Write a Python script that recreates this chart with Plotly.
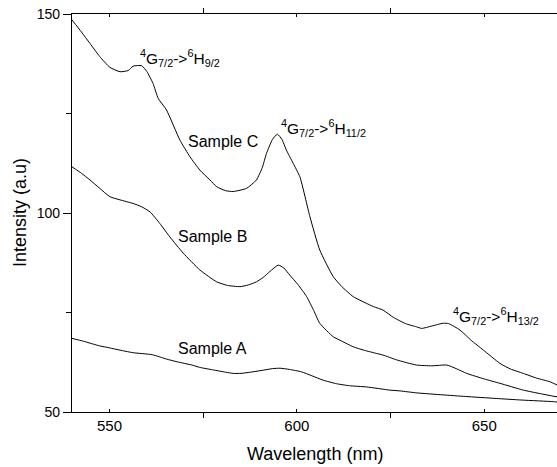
import plotly.graph_objects as go

# ---- data ----
wl_C = [540, 542.5, 544.8, 547.4, 550.1, 552.8, 555, 556.3, 558.6, 560, 561.6, 563, 565.2,
        568.8, 571.5, 574.1, 576.8, 578.6, 581, 583, 586.6, 589.2, 590.8, 591.9, 593.5,
        594.8, 596, 597.2, 599, 600.8, 603.5, 606.1, 609.7, 612, 615, 620.4, 623, 625.7,
        629, 631.9, 633.3, 636, 639, 640.5, 643.5, 646.5, 649.7, 654.2, 657, 660.4, 664,
        667.5, 669.4]
int_C = [148.5, 145.5, 142.6, 139.3, 136.6, 135.5, 135.8, 136.9, 137.0, 135.5, 132.6, 128.8,
         125.9, 118.3, 114.1, 110.8, 108.3, 106.6, 105.6, 105.4, 106.2, 108.3, 111.5, 115,
         118.5, 119.8, 118.5, 115.8, 112.5, 109.1, 99, 90.7, 84, 81.5, 79, 76.5, 75.6, 73.8,
         72.2, 71.4, 71.0, 71.6, 72.3, 72.2, 70.6, 68, 65.6, 62.2, 60.8, 59.7, 58.5, 57.6,
         56.8]

wl_B = [540, 542.5, 544.8, 547.4, 550.1, 552.8, 556.3, 558.5, 560.8, 563.4, 566.1, 569.7,
        574.1, 578.6, 581.5, 584.8, 587, 589.2, 591, 592.8, 595, 596.5, 598.1, 600.3, 602.6,
        604.5, 606.1, 609.7, 612, 615, 618, 621.3, 623, 626.6, 631.9, 636, 640, 642.5,
        645.3, 650, 654.2, 660.4, 665, 669.4]
int_B = [111.6, 110, 108.3, 106.2, 104.1, 103.3, 102.4, 101.6, 100.3, 97.4, 94.0, 89.9, 85.7,
         82.7, 81.8, 81.5, 81.9, 82.7, 83.8, 85.3, 86.9, 86.2, 84.4, 82, 79, 75.5, 72.3, 68.9,
         67.8, 66.4, 65.5, 64.7, 64.3, 63.1, 61.8, 61.6, 61.8, 60.9, 59.7, 58.3, 57.2, 55.5,
         54.6, 53.8]

wl_A = [540, 543, 547.4, 549.1, 552, 556.3, 561.4, 565.2, 568.1, 572, 574.1, 577.5, 581,
        583, 585.1, 588.3, 591, 593.5, 595.5, 598, 601.2, 604, 607, 610.6, 614, 618.6,
        624.8, 627.5, 632, 639, 645, 653.2, 660, 668.4, 669.4]
int_A = [68.5, 67.8, 66.6, 66.3, 65.7, 64.9, 64.4, 63.3, 62.6, 61.8, 61.2, 60.6, 60, 59.7,
         59.7, 60.1, 60.5, 60.9, 61, 60.7, 60.1, 59.1, 58, 57.1, 56.6, 56.3, 55.5, 55.3, 54.8,
         54.3, 53.9, 53.4, 53.0, 52.6, 52.5]

x_ticks = [550, 600, 650]
x_minor = [575, 625]
y_ticks = [50, 100, 150]
y_minor = [75, 125]

sample_labels = ["Sample A", "Sample B", "Sample C"]
sample_label_pos = [(577.6, 66), (577.5, 94), (580.3, 118)]
trans_labels = ["<sup>4</sup>G<sub>7/2</sub>-><sup>6</sup>H<sub>9/2</sub>",
                "<sup>4</sup>G<sub>7/2</sub>-><sup>6</sup>H<sub>11/2</sub>",
                "<sup>4</sup>G<sub>7/2</sub>-><sup>6</sup>H<sub>13/2</sub>"]
trans_pos = [(568.8, 139), (607.2, 121.4), (653.0, 74.1)]

FONT = "Arial, Liberation Sans, sans-serif"

fig = go.Figure()
for wl, it in [(wl_A, int_A), (wl_B, int_B), (wl_C, int_C)]:
    fig.add_trace(go.Scatter(x=wl, y=it, mode="lines",
                             line=dict(color="black", width=1, shape="spline", smoothing=0.5),
                             showlegend=False))

for txt, (x, y) in zip(sample_labels, sample_label_pos):
    fig.add_annotation(x=x, y=y, text=txt, showarrow=False, xref="x", yref="y",
                       font=dict(family=FONT, size=16, color="black"))
for txt, (x, y) in zip(trans_labels, trans_pos):
    fig.add_annotation(x=x, y=y, text=txt, showarrow=False, xref="x", yref="y",
                       font=dict(family=FONT, size=15.5, color="black"))

# axis titles
fig.add_annotation(x=0.5, y=0, xref="paper", yref="paper", yanchor="middle",
                   yshift=-42, text="Wavelength (nm)", showarrow=False,
                   font=dict(family=FONT, size=18, color="black"))
fig.add_annotation(x=0, y=0.5, xref="paper", yref="paper", xanchor="center",
                   xshift=-52, text="Intensity (a.u)", textangle=-90, showarrow=False,
                   font=dict(family=FONT, size=18, color="black"))

fig.update_layout(
    width=557, height=467,
    margin=dict(l=72, r=0, t=14, b=55),
    paper_bgcolor="white", plot_bgcolor="white",
    font=dict(family=FONT, color="black"),
    xaxis=dict(range=[540, 669.4], showline=True, linecolor="black", linewidth=1.3,
               mirror="ticks", ticks="inside", ticklen=3, tickcolor="black",
               tickvals=x_ticks, showgrid=False, zeroline=False,
               tickfont=dict(size=15),
               minor=dict(tickvals=x_minor, ticks="outside", ticklen=5, tickcolor="black")),
    yaxis=dict(range=[50, 150], showline=True, linecolor="black", linewidth=1.3,
               ticks="outside", ticklen=8, tickcolor="black",
               tickvals=y_ticks, showgrid=False, zeroline=False,
               tickfont=dict(size=14),
               minor=dict(tickvals=y_minor, ticks="outside", ticklen=5, tickcolor="black")),
)

fig.write_html("out.html", config={"displayModeBar": False},
               post_script="document.body.style.margin='0';document.body.style.overflow='hidden';")
